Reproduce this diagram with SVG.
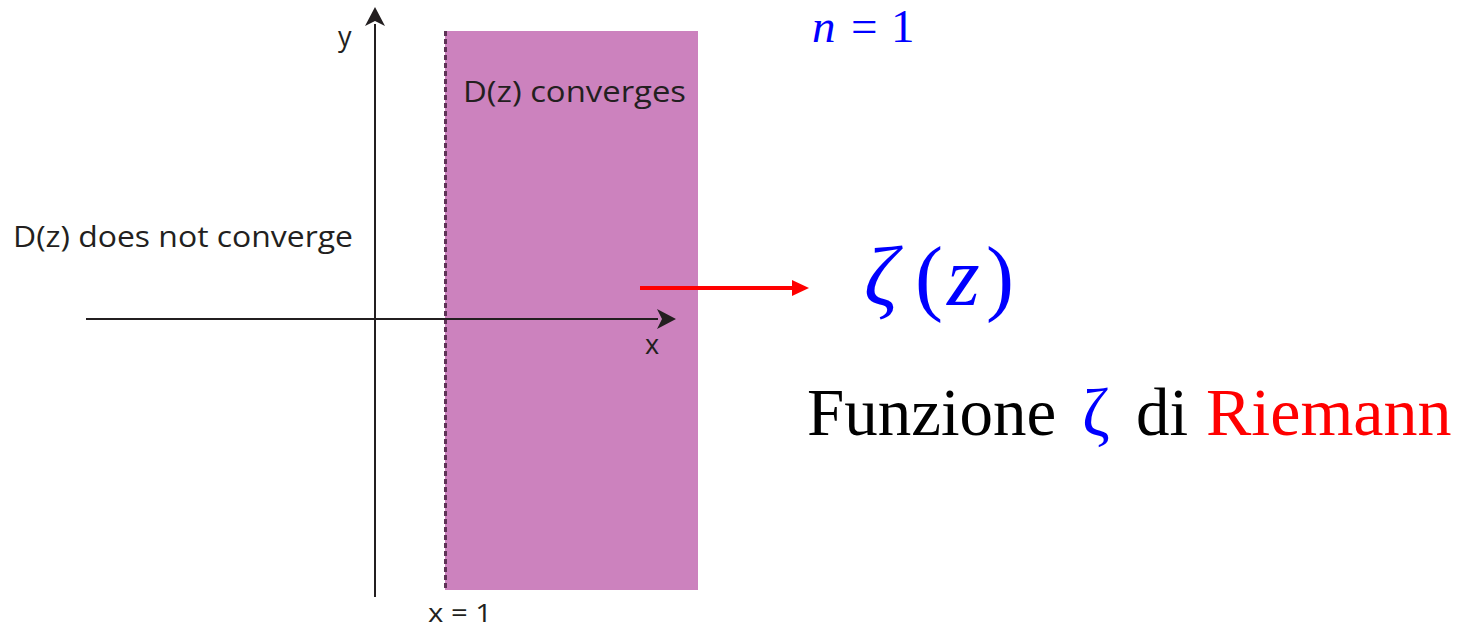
<svg xmlns="http://www.w3.org/2000/svg" width="1468" height="629" viewBox="0 0 1468 629">
<style>
.lbl{font-family:"Open Sans","Noto Sans",sans-serif;fill:#231f20}
.ax{stroke:#231f20;stroke-width:2;fill:none}
.math{font-family:"Liberation Serif","DejaVu Serif",serif;fill:#0000ff}
.big{font-family:"Liberation Serif",serif}
</style>
<rect width="1468" height="629" fill="#fff"/>
<g id="region">
<rect x="445" y="31" width="253" height="559" fill="#cc82be"/>
<line x1="445.5" y1="31" x2="445.5" y2="590" stroke="#5e3356" stroke-width="3" stroke-dasharray="5,3"/>
<text class="lbl" x="463" y="102" font-size="29" textLength="223" lengthAdjust="spacingAndGlyphs">D(z) converges</text>
</g>
<g id="axes">
<line x1="375" y1="597" x2="375" y2="24" class="ax"/>
<path d="M375,7 L385,26 L375,21 L365,26 Z" fill="#231f20"/>
<line x1="86" y1="319" x2="658" y2="319" class="ax"/>
<path d="M676,319 L657,309 L662,319 L657,329 Z" fill="#231f20"/>
<text class="lbl" x="338" y="46" font-size="27">y</text>
<text class="lbl" x="645" y="354" font-size="27">x</text>
<text class="lbl" x="428" y="622" font-size="25" textLength="64" lengthAdjust="spacingAndGlyphs">x = 1</text>
</g>
<g id="outside">
<text class="lbl" x="13" y="247" font-size="29" textLength="340" lengthAdjust="spacingAndGlyphs">D(z) does not converge</text>
</g>
<g id="connectors">
<line x1="640" y1="288" x2="794" y2="288" stroke="#ff0000" stroke-width="4"/>
<path d="M809,288 L792,280 L792,296 Z" fill="#ff0000"/>
</g>
<g id="n1">
<text class="math" font-size="47" y="42"><tspan x="812" font-style="italic">n</tspan><tspan x="851">=</tspan><tspan x="891">1</tspan></text>
</g>
<g id="zeta">
<text class="math" font-size="84" y="305"><tspan x="864" font-style="italic">ζ</tspan><tspan x="915">(</tspan><tspan x="947" font-style="italic">z</tspan><tspan x="986">)</tspan></text>
</g>
<g id="caption">
<text class="big" font-size="67" y="435"><tspan x="807" fill="#000">Funzione</tspan><tspan x="1082" fill="#0000ff">ζ</tspan><tspan x="1136" fill="#000">di</tspan><tspan x="1206" fill="#ff0000" font-size="68">Riemann</tspan></text>
</g>
</svg>
